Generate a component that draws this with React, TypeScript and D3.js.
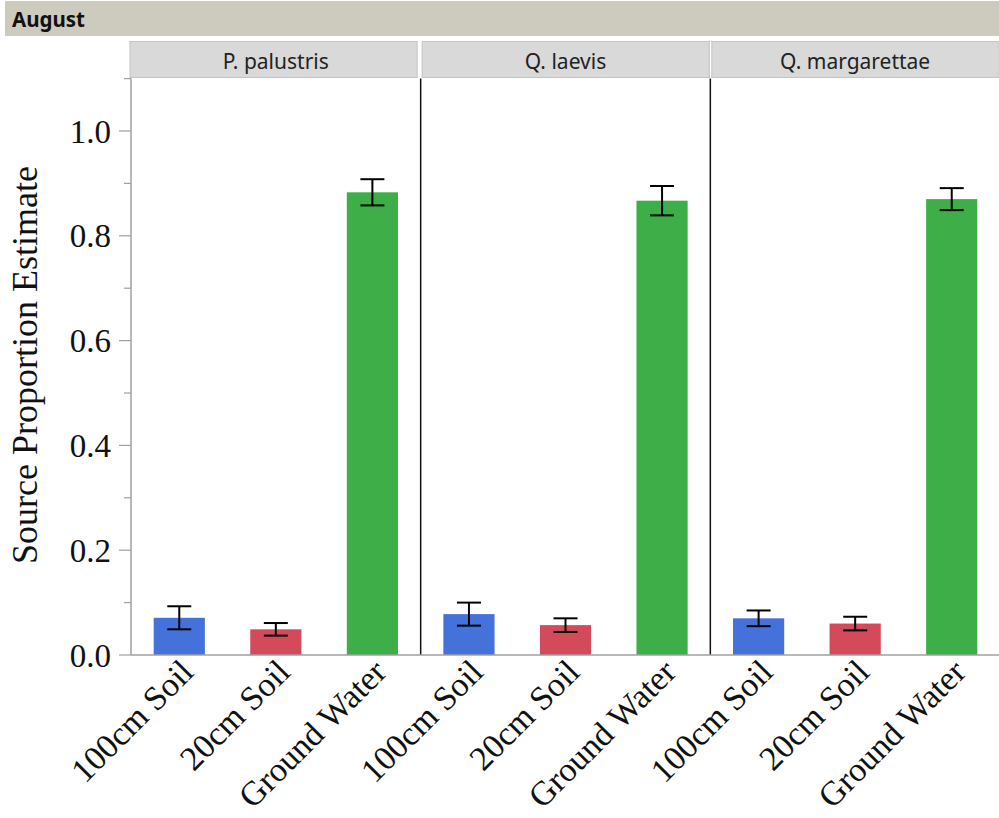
import React from "react";
import * as d3 from "d3";

const species = ["P. palustris", "Q. laevis", "Q. margarettae"];
const sources = ["100cm Soil", "20cm Soil", "Ground Water"];
const palustrisValues = [0.071, 0.049, 0.883];
const palustrisErrors = [0.022, 0.012, 0.025];
const laevisValues = [0.078, 0.057, 0.867];
const laevisErrors = [0.022, 0.013, 0.028];
const margarettaeValues = [0.07, 0.06, 0.87];
const margarettaeErrors = [0.015, 0.013, 0.021];
const majorTicks = [0, 0.2, 0.4, 0.6, 0.8, 1.0];
const minorTicks = [0.1, 0.3, 0.5, 0.7, 0.9, 1.1];
const colors = ["#4571DB", "#D34A5A", "#3DAE48"];

const valuesBySpecies = [palustrisValues, laevisValues, margarettaeValues];
const errorsBySpecies = [palustrisErrors, laevisErrors, margarettaeErrors];

const W = 999;
const H = 818;
const plotLeft = 131;
const plotRight = 1000;
const plotBottom = 655;
const plotTop = 78.6;

export default function App() {
  const xPanel = d3.scaleBand<string>().domain(species).range([plotLeft, plotRight]).padding(0);
  const pw = xPanel.bandwidth();
  const xInner = d3
    .scaleBand<string>()
    .domain(sources)
    .range([0, pw])
    .paddingInner(0.47)
    .paddingOuter(0.235);
  const y = d3.scaleLinear().domain([0, 1.1]).range([plotBottom, plotTop]);
  const serif = "'Liberation Serif', 'Times New Roman', serif";
  const sans = "'Noto Sans', 'Open Sans', sans-serif";

  return (
    <svg
      width={W}
      height={H}
      style={{ position: "absolute", left: 0, top: 0, background: "#fff" }}
    >
      {/* title bar */}
      <rect x={5} y={1} width={W - 5} height={35} fill="#CDCBBD" />
      <text x={12} y={27} fontFamily={sans} fontWeight="bold" fontSize={20.5} fill="#111">
        August
      </text>

      {/* facet strips */}
      {species.map((s, i) => {
        const x0 = xPanel(s)!;
        return (
          <g key={s}>
            <rect
              x={x0 - (i === 0 ? 1 : -1.5)}
              y={41.5}
              width={pw - 2.5}
              height={36}
              fill="#D9D9D9"
              stroke="#C4C4C4"
              strokeWidth={1}
            />
            <text
              x={x0 + pw / 2}
              y={69}
              textAnchor="middle"
              fontFamily={sans}
              fontSize={21}
              fill="#222"
            >
              {s}
            </text>
          </g>
        );
      })}

      {/* y axis */}
      <line x1={plotLeft} x2={plotLeft} y1={plotTop} y2={plotBottom} stroke="#A0A0A0" strokeWidth={1.5} />
      {majorTicks.map((t) => (
        <g key={"M" + t}>
          <line x1={plotLeft - 12} x2={plotLeft} y1={y(t)} y2={y(t)} stroke="#A0A0A0" strokeWidth={1.2} />
          <text
            x={111}
            y={y(t)}
            dy="0.35em"
            textAnchor="end"
            fontFamily={serif}
            fontSize={33}
            fill="#111"
          >
            {d3.format(".1f")(t)}
          </text>
        </g>
      ))}
      {minorTicks.map((t) => (
        <line key={"m" + t} x1={plotLeft - 7} x2={plotLeft} y1={y(t)} y2={y(t)} stroke="#A0A0A0" strokeWidth={1.2} />
      ))}
      <text
        transform={`translate(37, ${365}) rotate(-90)`}
        textAnchor="middle"
        fontFamily={serif}
        fontSize={36}
        fill="#111"
      >
        Source Proportion Estimate
      </text>

      {/* panels */}
      {species.map((s, i) => {
        const x0 = xPanel(s)!;
        const vals = valuesBySpecies[i];
        const errs = errorsBySpecies[i];
        return (
          <g key={s}>
            {i > 0 && (
              <line x1={x0} x2={x0} y1={plotTop} y2={plotBottom} stroke="#111" strokeWidth={1.5} />
            )}
            {sources.map((c, j) => {
              const bx = x0 + xInner(c)!;
              const bw = xInner.bandwidth();
              const cx = bx + bw / 2;
              const v = vals[j];
              const e = errs[j];
              return (
                <g key={c}>
                  <rect x={bx} y={y(v)} width={bw} height={plotBottom - y(v)} fill={colors[j]} />
                  <line x1={cx} x2={cx} y1={y(v + e)} y2={y(v - e)} stroke="#000" strokeWidth={2} />
                  <line x1={cx - 12} x2={cx + 12} y1={y(v + e)} y2={y(v + e)} stroke="#000" strokeWidth={2} />
                  <line x1={cx - 12} x2={cx + 12} y1={y(v - e)} y2={y(v - e)} stroke="#000" strokeWidth={2} />
                  <text
                    transform={`translate(${cx + 16}, ${plotBottom + 19}) rotate(-45)`}
                    textAnchor="end"
                    fontFamily={serif}
                    fontSize={34}
                    fill="#111"
                  >
                    {c}
                  </text>
                </g>
              );
            })}
          </g>
        );
      })}

      {/* x axis */}
      <line x1={plotLeft} x2={W} y1={plotBottom} y2={plotBottom} stroke="#A0A0A0" strokeWidth={1.5} />
    </svg>
  );
}
